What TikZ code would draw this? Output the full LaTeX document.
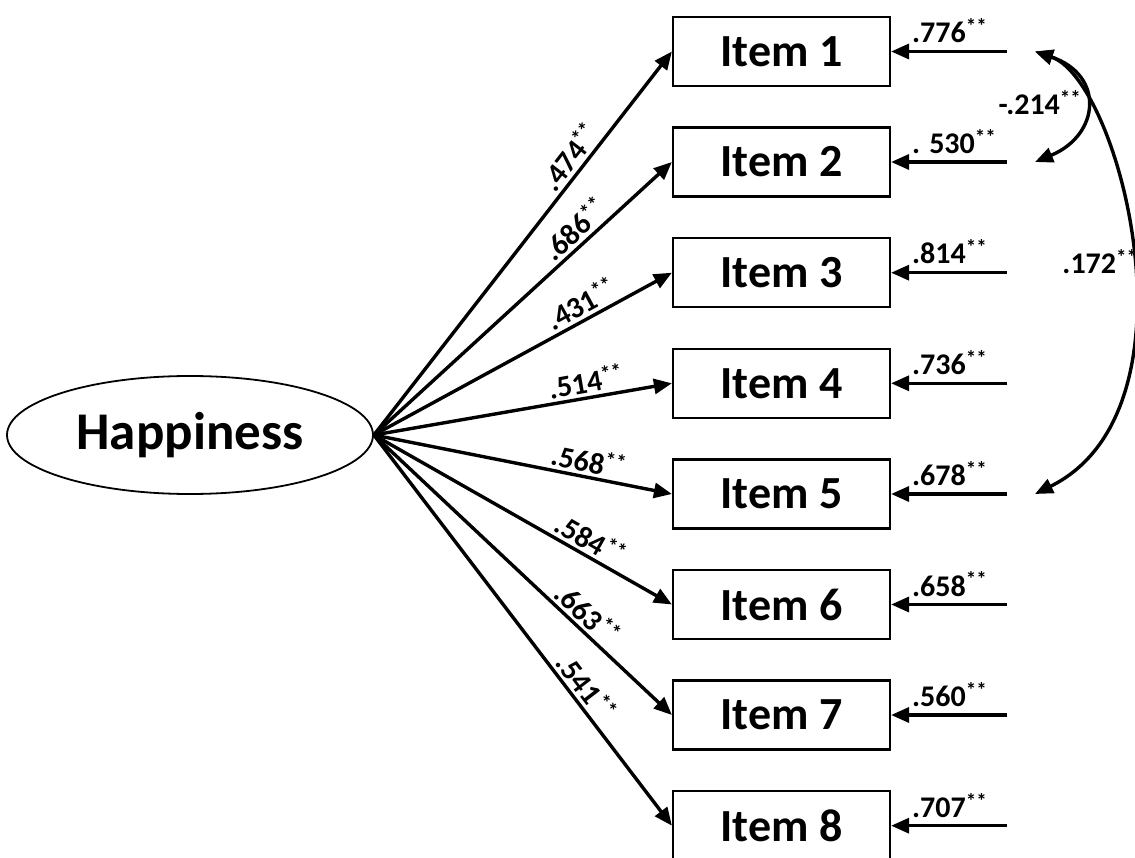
\documentclass[tikz,border=0pt]{standalone}
\usepackage{fontspec}
\setmainfont{Carlito}
\usetikzlibrary{arrows.meta,shapes.geometric}
\newcommand\sig{\textsuperscript{**}}
\begin{document}
\begin{tikzpicture}[x=1pt,y=-1pt,
  item/.style={draw,line width=2.2pt,minimum width=217pt,minimum height=69pt,inner sep=0pt,
    font=\fontsize{46}{50}\selectfont\bfseries},
  latent/.style={draw,ellipse,line width=1.8pt,minimum width=366pt,minimum height=118pt,inner sep=0pt,
    font=\fontsize{53}{58}\selectfont\bfseries},
  load/.style={line width=3.4pt,-{Triangle[length=18pt,width=15pt]}},
  cov/.style={line width=3.4pt,{Triangle[length=18pt,width=15pt]}-{Triangle[length=18pt,width=15pt]}},
  lbl/.style={font=\fontsize{30}{33}\selectfont\bfseries,inner sep=1pt},
  res/.style={font=\fontsize{30}{33}\selectfont\bfseries,inner sep=0pt,anchor=base west}
]
\useasboundingbox (0,0) rectangle (1135,858);
\node[latent] (hap) at (190,435) {Happiness};
\foreach \i/\y in {1/51.5,2/162,3/272.7,4/383.3,5/494,6/604.5,7/715,8/825.7}{
  \node[item] (i\i) at (781.5,\y) {Item \i};
  \coordinate (e\i) at (1007,\y);
  \coordinate (c\i) at (1035,\y);
}
% loadings
\draw[load] (hap.east) -- node[lbl,pos=0.7,sloped,above=2pt]{.474\sig} (i1.west);
\draw[load] (hap.east) -- node[lbl,pos=0.71,sloped,above=2pt]{.686\sig} (i2.west);
\draw[load] (hap.east) -- node[lbl,pos=0.72,sloped,above=2pt]{.431\sig} (i3.west);
\draw[load] (hap.east) -- node[lbl,pos=0.72,sloped,above=2pt]{.514\sig} (i4.west);
\draw[load] (hap.east) -- node[lbl,pos=0.71,sloped,above=2pt]{.568\sig} (i5.west);
\draw[load] (hap.east) -- node[lbl,pos=0.70,sloped,above=2pt]{.584\sig} (i6.west);
\draw[load] (hap.east) -- node[lbl,pos=0.68,sloped,above=2pt]{.663\sig} (i7.west);
\draw[load] (hap.east) -- node[lbl,pos=0.67,sloped,above=2pt]{.541\sig} (i8.west);
% residuals
\foreach \i in {1,...,8}{ \draw[load] (e\i) -- (i\i.east); }
\node[res] (r1) at (912,43) {.776\sig};
\node[res] (r2) at (912,153.5) {. 530\sig};
\node[res] (r3) at (912,264) {.814\sig};
\node[res] (r4) at (912,374.8) {.736\sig};
\node[res] (r5) at (912,485.5) {.678\sig};
\node[res] (r6) at (912,596) {.658\sig};
\node[res] (r7) at (912,706.5) {.560\sig};
\node[res] (r8) at (912,817.2) {.707\sig};
% covariances
\draw[cov] (c1) .. controls (1105,75) and (1100,135) .. (c2);
\draw[cov] (c1) .. controls (1120,80) and (1205,410) .. (c5);
\node[lbl] (k12) at (1040,103) {-.214\sig};
\node[lbl] (k15) at (1100,262) {.172\sig};
\end{tikzpicture}
\end{document}
